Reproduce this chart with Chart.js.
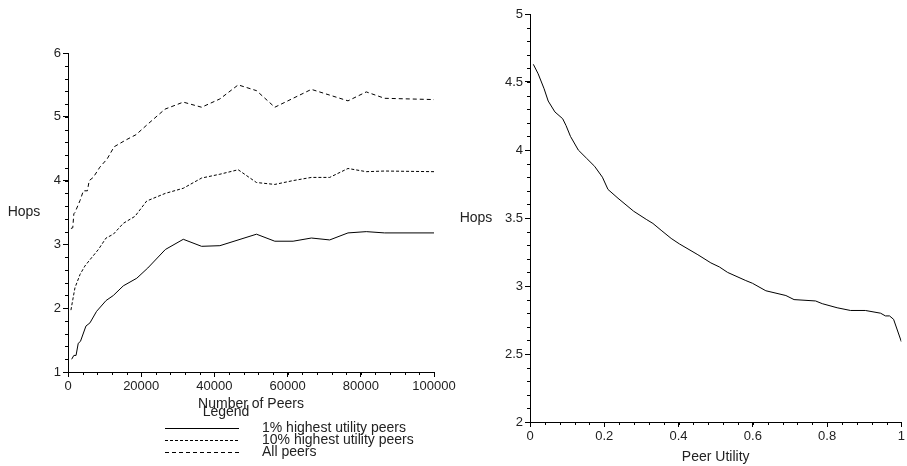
<!DOCTYPE html>
<html>
<head>
<meta charset="utf-8">
<script src="https://cdn.jsdelivr.net/npm/chart.js@4"></script>
<style>
  body { margin: 0; background: #fff; }
  #left { position: absolute; left: 0; top: 0; width: 460px; height: 466px; }
  #right { position: absolute; left: 453px; top: 0; width: 454px; height: 466px; }
</style>
</head>
<body>
<div id="left"><canvas id="peersChart"></canvas></div>
<div id="right"><canvas id="utilityChart"></canvas></div>
<script>
// LEFT: hops vs number of peers
const top1Peers = [1000, 1600, 2200, 2800, 3400, 4900, 6000, 7800, 10400, 12400, 15100, 18800, 21800, 26600, 31500, 36500, 41500, 51500, 56500, 61500, 66500, 71500, 76500, 81500, 86500, 100000];
const top1Hops = [1.2, 1.26, 1.26, 1.45, 1.48, 1.72, 1.77, 1.95, 2.12, 2.2, 2.35, 2.47, 2.63, 2.92, 3.08, 2.97, 2.98, 3.16, 3.05, 3.05, 3.1, 3.07, 3.18, 3.2, 3.18, 3.18];

const top10Peers = [800, 1300, 1900, 3300, 4600, 6000, 8300, 10400, 12400, 15100, 18300, 21500, 26600, 31500, 36500, 41500, 46500, 51500, 56500, 61500, 66500, 71500, 76500, 81500, 86500, 100000];
const top10Hops = [1.97, 2.13, 2.32, 2.53, 2.66, 2.76, 2.92, 3.1, 3.16, 3.33, 3.44, 3.68, 3.8, 3.88, 4.04, 4.1, 4.17, 3.97, 3.94, 4.0, 4.05, 4.05, 4.19, 4.14, 4.15, 4.14];

const allPeers = [800, 1300, 1600, 1900, 3300, 4200, 5300, 5800, 6900, 8700, 10700, 12600, 15600, 18600, 21700, 26500, 31500, 36500, 41500, 46500, 51500, 56500, 66500, 71500, 76500, 81500, 86500, 100000];
const allHops = [3.25, 3.26, 3.48, 3.5, 3.69, 3.84, 3.84, 4.0, 4.05, 4.21, 4.34, 4.53, 4.63, 4.72, 4.88, 5.12, 5.23, 5.15, 5.28, 5.5, 5.41, 5.15, 5.43, 5.34, 5.25, 5.39, 5.29, 5.27];

// RIGHT: hops vs peer utility
const utility = [0.009, 0.022, 0.038, 0.049, 0.067, 0.088, 0.097, 0.109, 0.13, 0.152, 0.174, 0.195, 0.21, 0.237, 0.279, 0.313, 0.331, 0.353, 0.38, 0.402, 0.452, 0.487, 0.51, 0.532, 0.581, 0.599, 0.635, 0.689, 0.711, 0.769, 0.787, 0.827, 0.863, 0.903, 0.944, 0.957, 0.968, 0.979, 1.0];
const utilityHops = [4.63, 4.56, 4.45, 4.36, 4.28, 4.23, 4.18, 4.10, 4.0, 3.94, 3.88, 3.80, 3.71, 3.645, 3.55, 3.49, 3.46, 3.41, 3.35, 3.31, 3.23, 3.17, 3.14, 3.10, 3.04, 3.02, 2.965, 2.93, 2.90, 2.89, 2.87, 2.84, 2.82, 2.82, 2.80, 2.78, 2.78, 2.755, 2.59];

const FONT = '"Liberation Sans", Arial, Helvetica, sans-serif';
Chart.defaults.font.family = FONT;
Chart.defaults.font.size = 13;
Chart.defaults.color = '#222';

function pts(xs, ys) {
  return xs.map((x, i) => ({ x: x, y: ys[i] }));
}

// horizontal "Hops" label left of the y axis
const hopsLabel = {
  id: 'hopsLabel',
  afterDraw(chart, args, opts) {
    const { ctx, chartArea } = chart;
    ctx.save();
    ctx.font = '14px ' + FONT;
    ctx.fillStyle = '#222';
    ctx.textAlign = 'center';
    ctx.textBaseline = 'middle';
    ctx.fillText(opts.text, chartArea.left + opts.dx, (chartArea.top + chartArea.bottom) / 2);
    ctx.restore();
  }
};

// short minor ticks between the labelled ones
const minorTicks = {
  id: 'minorTicks',
  afterDraw(chart, args, opts) {
    const { ctx } = chart;
    ctx.save();
    ctx.strokeStyle = '#000';
    ctx.lineWidth = 1;
    ['x', 'y'].forEach(id => {
      const s = chart.scales[id];
      const step = opts[id];
      const n = Math.round((s.max - s.min) / step);
      for (let k = 0; k <= n; k++) {
        const p = Math.round(s.getPixelForValue(s.min + k * step));
        ctx.beginPath();
        if (id === 'x') {
          ctx.moveTo(p + 0.5, s.top);
          ctx.lineTo(p + 0.5, s.top + 3);
        } else {
          ctx.moveTo(s.right - 3, p + 0.5);
          ctx.lineTo(s.right, p + 0.5);
        }
        ctx.stroke();
      }
    });
    ctx.restore();
  }
};

// legend block under the left chart
const lineLegend = {
  id: 'lineLegend',
  afterDraw(chart, args, opts) {
    if (!opts.show) return;
    const { ctx } = chart;
    ctx.save();
    ctx.font = '14px ' + FONT;
    ctx.fillStyle = '#222';
    ctx.textBaseline = 'middle';
    ctx.textAlign = 'center';
    ctx.fillText('Legend', opts.titleX, opts.titleY);
    ctx.textAlign = 'left';
    chart.data.datasets.forEach((ds, i) => {
      const y = opts.y + i * opts.rowGap;
      ctx.beginPath();
      ctx.setLineDash(ds.borderDash || []);
      ctx.lineWidth = 1;
      ctx.strokeStyle = '#000';
      ctx.moveTo(opts.x, y + 0.5);
      ctx.lineTo(opts.x + opts.lineLen, y + 0.5);
      ctx.stroke();
      ctx.fillText(ds.label, opts.x + opts.textGap, y);
    });
    ctx.restore();
  }
};

function axis(min, max, step, size, extra) {
  return Object.assign({
    type: 'linear',
    min: min,
    max: max,
    ticks: {
      stepSize: step,
      autoSkip: false,
      maxRotation: 0,
      padding: 2,
      callback: v => String(+v.toFixed(2))
    },
    grid: { drawOnChartArea: false, drawTicks: true, tickLength: 5, color: '#000' },
    border: { color: '#000', width: 1 },
    afterFit: s => { if (s.isHorizontal()) s.height = size; else s.width = size; }
  }, extra || {});
}

const lineStyle = { borderColor: '#000', borderWidth: 1, pointRadius: 0, tension: 0, fill: false };

new Chart(document.getElementById('peersChart'), {
  type: 'line',
  data: {
    datasets: [
      Object.assign({ label: '1% highest utility peers', data: pts(top1Peers, top1Hops) }, lineStyle),
      Object.assign({ label: '10% highest utility peers', data: pts(top10Peers, top10Hops), borderDash: [3, 2] }, lineStyle),
      Object.assign({ label: 'All peers', data: pts(allPeers, allHops), borderDash: [4, 3] }, lineStyle)
    ]
  },
  options: {
    animation: false,
    responsive: true,
    maintainAspectRatio: false,
    layout: { padding: { top: 53, right: 26, bottom: 53, left: 0 } },
    plugins: {
      legend: { display: false },
      tooltip: { enabled: false },
      hopsLabel: { text: 'Hops', dx: -44 },
      minorTicks: { x: 4000, y: 0.2 },
      lineLegend: { show: true, titleX: 226, titleY: 412, x: 165, lineLen: 74, textGap: 97, y: 428, rowGap: 12 }
    },
    scales: {
      x: axis(0, 100000, 20000, 41, {
        title: { display: true, text: 'Number of Peers', padding: 0, font: { size: 14 } }
      }),
      y: axis(1, 6, 1, 68)
    }
  },
  plugins: [hopsLabel, minorTicks, lineLegend]
});

new Chart(document.getElementById('utilityChart'), {
  type: 'line',
  data: {
    datasets: [
      Object.assign({ label: 'Hops', data: pts(utility, utilityHops) }, lineStyle)
    ]
  },
  options: {
    animation: false,
    responsive: true,
    maintainAspectRatio: false,
    layout: { padding: { top: 14, right: 4, bottom: 0, left: 0 } },
    plugins: {
      legend: { display: false },
      tooltip: { enabled: false },
      hopsLabel: { text: 'Hops', dx: -54 },
      minorTicks: { x: 0.04, y: 0.1 },
      lineLegend: { show: false }
    },
    scales: {
      x: axis(0, 1, 0.2, 44, {
        title: { display: true, text: 'Peer Utility', padding: 0, font: { size: 14 } }
      }),
      y: axis(2, 5, 0.5, 77)
    }
  },
  plugins: [hopsLabel, minorTicks, lineLegend]
});
</script>
</body>
</html>
